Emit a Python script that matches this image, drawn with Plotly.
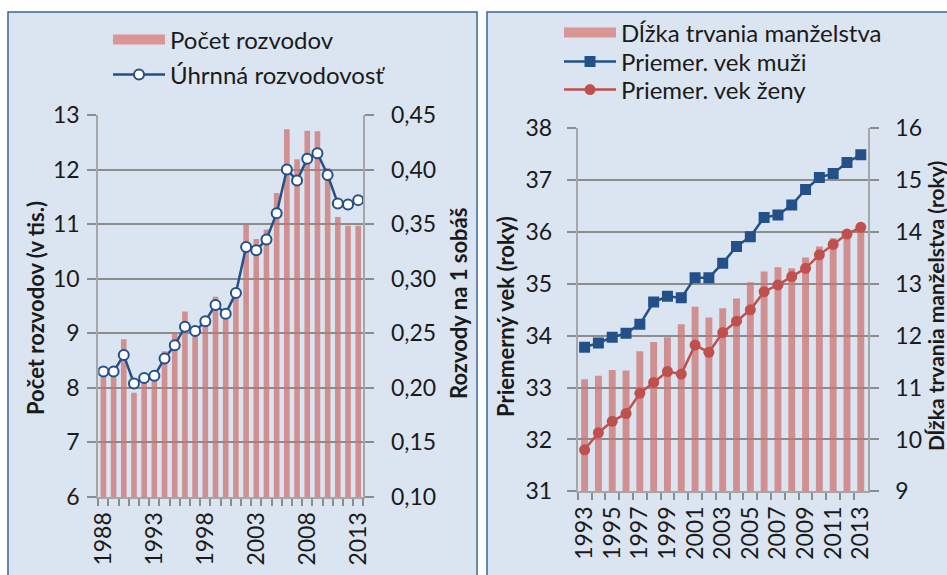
import plotly.graph_objects as go

# ---------------- data ----------------
years_left = [str(y) for y in range(1988, 2014)]
left_year_labels = ["1988", "1993", "1998", "2003", "2008", "2013"]
divorces = [8.20, 8.20, 8.89, 7.91, 8.16, 8.19, 8.67, 9.01, 9.40, 9.03, 9.25, 9.67,
            9.33, 9.80, 10.99, 10.73, 10.90, 11.57, 12.74, 12.19, 12.71, 12.70,
            12.03, 11.13, 10.97, 10.97]
divorce_rate = [0.215, 0.215, 0.230, 0.204, 0.209, 0.211, 0.227, 0.239, 0.256, 0.252,
                0.261, 0.276, 0.268, 0.287, 0.329, 0.326, 0.336, 0.360, 0.400, 0.390,
                0.410, 0.415, 0.395, 0.369, 0.368, 0.372]

years_right = [str(y) for y in range(1993, 2014)]
right_year_labels = ["1993", "1995", "1997", "1999", "2001", "2003", "2005", "2007",
                     "2009", "2011", "2013"]
marriage_len = [11.16, 11.23, 11.34, 11.33, 11.70, 11.88, 11.97, 12.22, 12.56, 12.35,
                12.53, 12.72, 13.03, 13.24, 13.32, 13.30, 13.51, 13.72, 13.88, 13.97, 14.12]
age_men = [33.78, 33.86, 33.97, 34.05, 34.22, 34.65, 34.76, 34.73, 35.12, 35.12, 35.40,
           35.72, 35.91, 36.28, 36.33, 36.52, 36.82, 37.05, 37.13, 37.34, 37.49]
age_women = [31.80, 32.13, 32.35, 32.50, 32.89, 33.10, 33.31, 33.26, 33.82, 33.68, 34.06,
             34.28, 34.50, 34.85, 34.98, 35.14, 35.30, 35.56, 35.76, 35.96, 36.09]

left_y_ticks = [6, 7, 8, 9, 10, 11, 12, 13]
rate_ticks = [0.10, 0.15, 0.20, 0.25, 0.30, 0.35, 0.40, 0.45]
age_ticks = [31, 32, 33, 34, 35, 36, 37, 38]
len_ticks = [9, 10, 11, 12, 13, 14, 15, 16]

# ---------------- styles ----------------
W, H = 947, 575
FONT = "Lato"
TXT = "#1a1a1a"
BAR = "rgba(204,115,112,0.75)"
BAR_SOLID = "#d99694"
NAVY = "#24508a"
RED = "#c0504d"
GRID = "#8c8c8c"
AXLINE = "#a6a6a6"
PANEL = "#dbe5f1"
BORDER = "#3d6598"


def fx(px):
    return px / W


def fy(py):
    return 1 - py / H


fig = go.Figure()

# left panel
fig.add_trace(go.Bar(x=years_left, y=divorces, name="Počet rozvodov", marker_color=BAR,
                     marker_line_width=0, width=0.55, xaxis="x", yaxis="y",
                     showlegend=False))
fig.add_trace(go.Scatter(x=[None], y=[None], name="Počet rozvodov", mode="lines",
                         line=dict(color=BAR_SOLID, width=16), xaxis="x", yaxis="y",
                         legend="legend"))
fig.add_trace(go.Scatter(x=years_left, y=divorce_rate, name="Úhrnná rozvodovosť",
                         mode="lines+markers", line=dict(color=NAVY, width=2.5),
                         marker=dict(symbol="circle", size=10, color="white",
                                     line=dict(color=NAVY, width=2)),
                         xaxis="x", yaxis="y2", legend="legend2"))

# right panel
fig.add_trace(go.Bar(x=years_right, y=marriage_len, name="Dĺžka trvania manželstva",
                     marker_color=BAR, marker_line_width=0, width=0.5,
                     xaxis="x2", yaxis="y3", showlegend=False))
fig.add_trace(go.Scatter(x=[None], y=[None], name="Dĺžka trvania manželstva", mode="lines",
                         line=dict(color=BAR_SOLID, width=16), xaxis="x2", yaxis="y3",
                         legend="legend3"))
fig.add_trace(go.Scatter(x=years_right, y=age_men, name="Priemer. vek muži",
                         mode="lines+markers", line=dict(color=NAVY, width=2.5),
                         marker=dict(symbol="square", size=11, color=NAVY),
                         xaxis="x2", yaxis="y4", legend="legend4"))
fig.add_trace(go.Scatter(x=years_right, y=age_women, name="Priemer. vek ženy",
                         mode="lines+markers", line=dict(color=RED, width=2.5),
                         marker=dict(symbol="circle", size=11, color=RED),
                         xaxis="x2", yaxis="y4", legend="legend5"))

tickfont = dict(family=FONT, size=23, color=TXT)

xcommon = dict(type="category", showgrid=False, showline=True, linecolor=AXLINE,
               linewidth=2, ticks="outside", ticklen=7, tickwidth=1.5,
               tickcolor=GRID, tickson="boundaries", tickangle=-90,
               ticklabelstandoff=4,
               tickfont=tickfont, zeroline=False, automargin=False, fixedrange=True)
ycommon = dict(showline=True, linecolor=AXLINE, linewidth=2, ticks="outside",
               ticklen=9, tickwidth=1.5, tickcolor=GRID, tickfont=tickfont,
               zeroline=False, automargin=False, fixedrange=True)

LEG_FONT = dict(family=FONT, size=24, color=TXT)


def leg(px, py):
    return dict(x=fx(px), y=fy(py), xanchor="left", yanchor="middle",
                bgcolor="rgba(0,0,0,0)", font=LEG_FONT, itemwidth=52)


def cat_text(cats, shown):
    return [c if c in shown else "" for c in cats]


fig.update_layout(
    width=W, height=H, autosize=False,
    margin=dict(l=0, r=0, t=0, b=0, pad=0),
    paper_bgcolor="white", plot_bgcolor="white",
    separators=", ",
    barmode="overlay",
    xaxis=dict(domain=[fx(98.3), fx(363.3)], anchor="y",
               range=[-0.5, len(years_left) - 0.5],
               tickmode="array", tickvals=years_left,
               ticktext=cat_text(years_left, left_year_labels), **xcommon),
    yaxis=dict(domain=[fy(497), fy(115)], anchor="x", range=[6, 13],
               tickvals=left_y_ticks, showgrid=True, gridcolor=GRID, gridwidth=1.5,
               side="left", ticklabelstandoff=3, **ycommon),
    yaxis2=dict(overlaying="y", anchor="x", side="right", range=[0.10, 0.45],
                tickvals=rate_ticks, tickformat=".2f", showgrid=False,
                ticklabelstandoff=12, **ycommon),
    xaxis2=dict(domain=[fx(577.7), fx(867.7)], anchor="y3",
                range=[-0.5, len(years_right) - 0.5],
                tickmode="array", tickvals=years_right,
                ticktext=cat_text(years_right, right_year_labels), **xcommon),
    yaxis3=dict(domain=[fy(491.3), fy(128.3)], anchor="x2", side="right", range=[9, 16],
                tickvals=len_ticks, showgrid=True, gridcolor=GRID, gridwidth=1.5,
                ticklabelstandoff=12, **ycommon),
    yaxis4=dict(overlaying="y3", anchor="x2", side="left", range=[31, 38],
                tickvals=age_ticks, showgrid=False, ticklabelstandoff=10, **ycommon),
    legend=leg(108, 40),
    legend2=leg(108, 75),
    legend3=leg(559, 33),
    legend4=leg(559, 62),
    legend5=leg(559, 90),
    showlegend=True,
)

annos = [
    ("<b>Počet rozvodov (v tis.)</b>", 36, 308, 22),
    ("<b>Rozvody na 1 sobáš</b>", 458, 304, 22),
    ("<b>Priemerný vek (roky)</b>", 505, 316, 22),
    ("<b>Dĺžka trvania manželstva (roky)</b>", 935, 306, 21),
]
for text, px, py, sz in annos:
    fig.add_annotation(text=text, x=fx(px), y=fy(py), xref="paper", yref="paper",
                       textangle=-90, showarrow=False,
                       font=dict(family=FONT, size=sz, color=TXT),
                       xanchor="center", yanchor="middle")

for x0, x1 in [(8, 477), (487, 975)]:
    fig.add_shape(type="rect", xref="paper", yref="paper", x0=fx(x0), x1=fx(x1),
                  y0=fy(12), y1=fy(600), fillcolor=PANEL,
                  line=dict(color=BORDER, width=1.5), layer="below")

fig.write_html("out.html", post_script="document.body.style.margin='0';",
               config={"displayModeBar": False})
